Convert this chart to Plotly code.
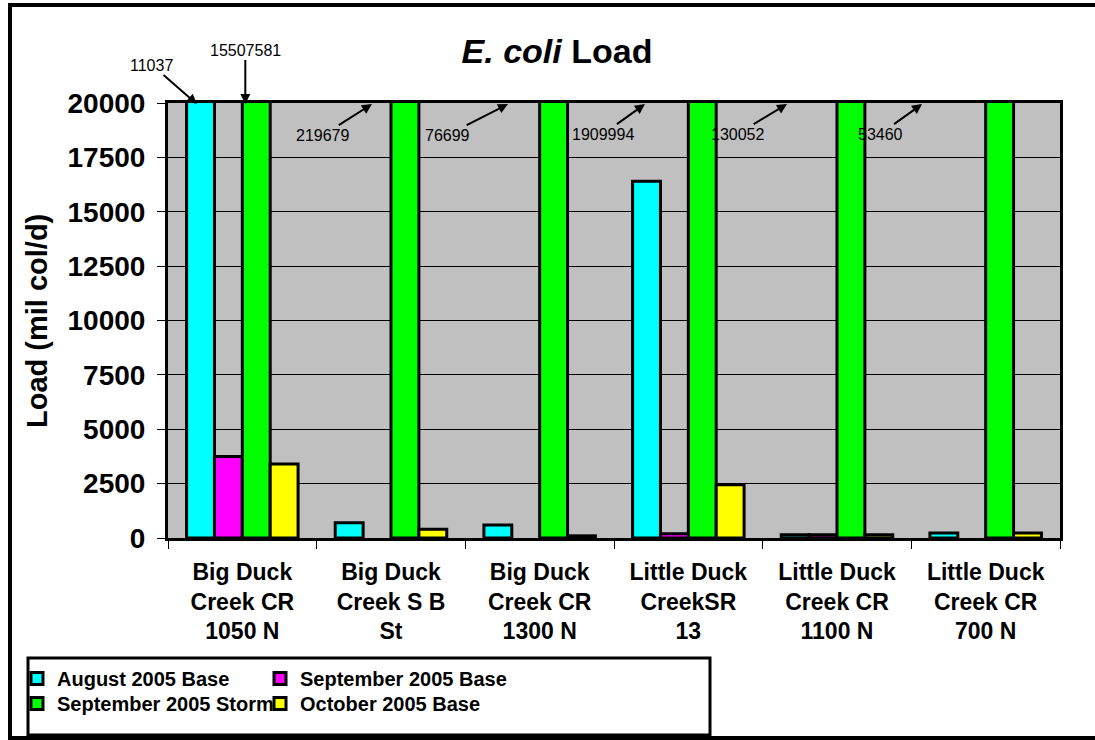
import plotly.graph_objects as go

# sites and loads (mil col/d); storm loads are far off the 0-20000 scale
# None = no sample shown for that site
sites = [
    "Big Duck<br>Creek CR<br>1050 N",
    "Big Duck<br>Creek S B<br>St",
    "Big Duck<br>Creek CR<br>1300 N",
    "Little Duck<br>CreekSR<br>13",
    "Little Duck<br>Creek CR<br>1100 N",
    "Little Duck<br>Creek CR<br>700 N",
]
aug_base = [110037, 700, 600, 16400, 150, 230]
sep_base = [3750, None, None, 200, 150, None]
sep_storm = [15507581, 219679, 76699, 1909994, 130052, 53460]
oct_base = [3400, 400, 100, 2450, 150, 230]

series_names = ["August 2005 Base", "September 2005 Base",
                "September 2005 Storm", "October 2005 Base"]
series_colors = ["#00FFFF", "#FF00FF", "#00FF00", "#FFFF00"]

# off-scale value labels as printed on the chart
off_scale_labels = ["11037", "15507581", "219679", "76699", "1909994", "130052", "53460"]

FONT = "Arial, Liberation Sans, sans-serif"
W, H = 1095, 740
L, R, T, B = 168, 35, 103, 202
PW, PH = W - L - R, H - T - B


def px_x(p):
    return (p - L) / PW


def px_y(p):
    return (H - B - p) / PH


# one legend per entry so the 2x2 grid sits where the original has it
legend_ids = ["legend", "legend2", "legend3", "legend4"]
legend_pos = [(17, 659), (260, 659), (17, 684), (260, 684)]

fig = go.Figure()
for name, vals, color, lg in zip(series_names, [aug_base, sep_base, sep_storm, oct_base],
                                 series_colors, legend_ids):
    fig.add_trace(go.Bar(
        x=sites, y=vals, name=name,
        marker=dict(color=color, line=dict(color="black", width=3)),
        legend=lg,
    ))

# arrow annotations for bars running off the top of the axis
# (head x in category units, tail offset in px)
arrow_heads = [(-0.305, -45, -39), (0.02, 0, -54), (0.872, -49, 31),
               (1.787, -61, 31), (2.708, -42, 30), (3.664, -50, 30),
               (4.572, -42, 30)]
for txt, (hx, ax, ay) in zip(off_scale_labels, arrow_heads):
    fig.add_annotation(
        x=hx, y=19950, xref="x", yref="y", text=txt,
        showarrow=True, arrowhead=2, arrowsize=1, arrowwidth=2, arrowcolor="black",
        ax=ax, ay=ay, font=dict(family=FONT, size=16, color="black"),
    )

fig.add_annotation(
    x=px_x(37), y=px_y(321), xref="paper", yref="paper", textangle=-90,
    xanchor="center", yanchor="middle",
    text="Load (mil col/d)", showarrow=False,
    font=dict(family=FONT, size=29, color="black", weight="bold"),
)

# legend box and outer chart frame
fig.add_shape(type="rect", xref="paper", yref="paper",
              x0=px_x(28), x1=px_x(710), y0=px_y(735), y1=px_y(658),
              line=dict(color="black", width=3), fillcolor="rgba(0,0,0,0)")
fig.add_shape(type="rect", xref="paper", yref="paper",
              x0=px_x(10), x1=px_x(1110), y0=px_y(738), y1=px_y(5),
              line=dict(color="black", width=4), fillcolor="rgba(0,0,0,0)")

legend_style = dict(
    xanchor="left", yanchor="top",
    font=dict(family=FONT, size=20, color="black", weight="bold"),
    bgcolor="rgba(0,0,0,0)", borderwidth=0, itemclick=False,
)
legends = {
    lg: dict(x=px_x(lx), y=px_y(ly), **legend_style)
    for lg, (lx, ly) in zip(legend_ids, legend_pos)
}

fig.update_layout(
    width=W, height=H,
    margin=dict(l=L, r=R, t=T, b=B, autoexpand=False),
    paper_bgcolor="white",
    plot_bgcolor="#C0C0C0",
    barmode="group",
    bargap=0.25,
    bargroupgap=0,
    showlegend=True,
    title=dict(
        text="<b><i>E. coli</i> Load</b>", x=557 / W, y=1 - 51 / H,
        xanchor="center", yanchor="middle",
        font=dict(family=FONT, size=34, color="black"),
    ),
    **legends,
    xaxis=dict(
        automargin=False, range=[-0.5, len(sites) - 0.5],
        showgrid=False, showline=True, linecolor="black", linewidth=3, mirror=True,
        ticks="outside", tickson="boundaries", ticklen=8, tickcolor="black",
        ticklabelstandoff=11,
        tickfont=dict(family=FONT, size=23, color="black", weight="bold"),
    ),
    yaxis=dict(
        automargin=False,
        range=[0, 20000], dtick=2500, tickformat="d",
        showgrid=True, gridcolor="black", gridwidth=1,
        showline=True, linecolor="black", linewidth=3, mirror=True,
        ticks="outside", ticklen=8, tickcolor="black", ticklabelstandoff=6,
        tickfont=dict(family=FONT, size=28, color="black", weight="bold"),
        zeroline=False,
    ),
)

# the page body has a default 8px margin; drop it so the chart fills the window
fig.write_html("out.html", config={"displayModeBar": False},
               post_script="document.body.style.margin = '0';")
